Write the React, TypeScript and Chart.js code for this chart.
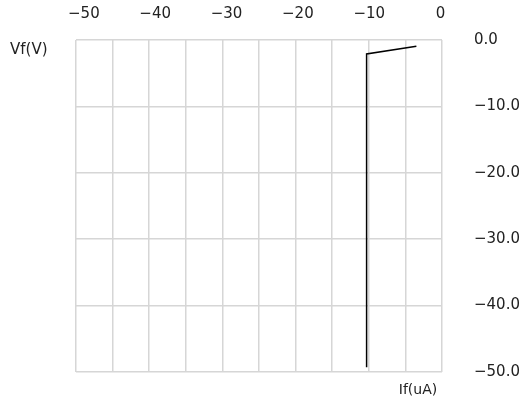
import React, { useEffect, useRef } from "react";
import { Chart, registerables } from "chart.js";

Chart.register(...registerables);

const currentIf: number[] = [-10.3, -10.3, -3.5];
const voltageVf: number[] = [-49.3, -2.1, -0.95];
const xTickValues: number[] = [-50, -40, -30, -20, -10, 0];
const yTickValues: number[] = [0, -10, -20, -30, -40, -50];
const yAxisTitle = "Vf(V)";
const xAxisTitle = "If(uA)";

const FONT = "'DejaVu Sans', sans-serif";
const GRID = "#d6d6d6";

function fmtMinus(s: string): string {
  return s.replace("-", "\u2212");
}

const titlesPlugin = {
  id: "cornerTitles",
  afterDraw(chart: any) {
    const ctx = chart.ctx;
    ctx.save();
    ctx.font = `15px ${FONT}`;
    ctx.fillStyle = "#222";
    ctx.textBaseline = "middle";
    ctx.textAlign = "left";
    ctx.fillText(yAxisTitle, 10, 50);
    ctx.font = `14px ${FONT}`;
    ctx.textAlign = "center";
    ctx.fillText(xAxisTitle, 418, 390);
    ctx.restore();
  },
};

export default function App() {
  const ref = useRef<HTMLCanvasElement | null>(null);
  useEffect(() => {
    if (!ref.current) return;
    const chart = new Chart(ref.current, {
      type: "line",
      data: {
        datasets: [
          {
            data: currentIf.map((x, i) => ({ x, y: voltageVf[i] })),
            borderColor: "#000",
            borderWidth: 1.5,
            pointRadius: 0,
            tension: 0,
            xAxisID: "x",
            yAxisID: "y",
          },
        ],
      },
      options: {
        animation: false,
        responsive: false,
        maintainAspectRatio: false,
        layout: { padding: { left: 76, right: 0, top: 0, bottom: 0 } },
        plugins: { legend: { display: false }, tooltip: { enabled: false } },
        scales: {
          x: {
            type: "linear",
            position: "bottom",
            min: -50,
            max: 0,
            border: { display: false },
            grid: { color: GRID, lineWidth: 1.5, drawTicks: false },
            ticks: { display: false, stepSize: 5 },
            afterFit: (s: any) => {
              s.height = 27;
            },
          },
          x2: {
            type: "linear",
            position: "top",
            min: -51.1,
            max: 0.2,
            border: { display: false },
            grid: { display: false, drawTicks: false },
            afterBuildTicks: (s: any) => {
              s.ticks = xTickValues.map((v) => ({ value: v }));
            },
            ticks: {
              padding: 17,
              color: "#222",
              font: { family: FONT, size: 15 },
              maxRotation: 0,
              autoSkip: false,
              callback: (v: any) => fmtMinus(String(v)),
            },
            afterFit: (s: any) => {
              s.height = 40;
            },
          },
          y: {
            type: "linear",
            position: "right",
            min: -50,
            max: 0,
            border: { display: false },
            grid: {
              color: GRID,
              lineWidth: 1.5,
              drawTicks: true,
              tickLength: 32,
              tickColor: "rgba(0,0,0,0)",
            },
            afterBuildTicks: (s: any) => {
              s.ticks = yTickValues.map((v) => ({ value: v }));
            },
            ticks: {
              padding: 0,
              color: "#222",
              font: { family: FONT, size: 15 },
              autoSkip: false,
              callback: (v: any) => {
                const n = Number(v);
                return n === 0 ? "0.0" : fmtMinus(n.toFixed(1));
              },
            },
            afterFit: (s: any) => {
              s.width = 88;
            },
          },
        },
      },
      plugins: [titlesPlugin],
    });
    return () => chart.destroy();
  }, []);
  return (
    <div style={{ position: "absolute", left: 0, top: 0, width: 530, height: 399, background: "#fff" }}>
      <canvas ref={ref} width={530} height={399} style={{ display: "block", width: 530, height: 399 }} />
    </div>
  );
}
